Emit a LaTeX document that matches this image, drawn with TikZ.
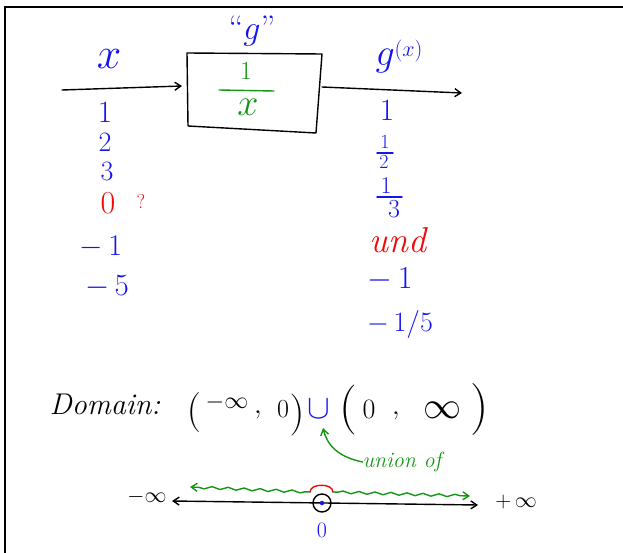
\RequirePackage{fix-cm}
\documentclass[tikz,border=0pt]{standalone}
\usetikzlibrary{arrows.meta,decorations.pathmorphing}
\definecolor{inkblue}{RGB}{20,20,240}
\definecolor{inkred}{RGB}{240,10,10}
\definecolor{inkgreen}{RGB}{20,150,20}
\newcommand\fsz[1]{\fontsize{#1}{#1}\selectfont}
\begin{document}
\begin{tikzpicture}[x=1pt,y=-1pt,
  every node/.style={inner sep=0pt,outer sep=0pt,anchor=center},
  pen/.style={line width=1.4pt,line cap=round,line join=round},
  arr/.style={pen,-{Straight Barb[length=6pt,width=8pt]}},
  arrboth/.style={pen,{Straight Barb[length=6pt,width=8pt]}-{Straight Barb[length=6pt,width=8pt]}},
  bl/.style={text=inkblue},
  rd/.style={text=inkred},
  gr/.style={text=inkgreen},
  wavy/.style={decorate,decoration={snake,amplitude=1.3pt,segment length=16pt,pre length=5pt,post length=5pt}}
]
\useasboundingbox (0,0) rectangle (623,553);
% frame
\coordinate (fr1) at (5,553);
\coordinate (fr2) at (5,7);
\coordinate (fr3) at (623,7);
\draw[line width=2.6pt] (fr1) -- (fr2) -- (fr3);

% function box
\coordinate (b1) at (187,53);
\coordinate (b2) at (322,54);
\coordinate (b3) at (316,133);
\coordinate (b4) at (188,126);
\draw[pen] (b1) -- (b2) -- (b3) -- (b4) -- cycle;
\node[gr] (num) at (246,71) {\fsz{26}$1$};
\node[gr] (den) at (248,107) {\fsz{38}$x$};
\coordinate (fb1) at (219,90);
\coordinate (fb2) at (274,91);
\draw[pen,inkgreen] (fb1) -- (fb2);
\node[bl] (gname) at (252,31) {\fsz{34}``$g$''};

% arrows
\coordinate (xin) at (62,90);
\coordinate (bin) at (182,86);
\draw[arr] (xin) -- (bin);
\coordinate (bout) at (322,87);
\coordinate (gout) at (462,93);
\draw[arr] (bout) -- (gout);
\node[bl] (xlab) at (109,59) {\fsz{44}$x$};
\node[bl] (gxlab) at (399,56) {\fsz{38}$g$\raisebox{9pt}{\fsz{22}$(x)$}};

% input column
\node[bl] (i1) at (105,113) {\fsz{31}$1$};
\node[bl] (i2) at (105,142) {\fsz{28}$2$};
\node[bl] (i3) at (107,171) {\fsz{28}$3$};
\node[rd] (i0) at (108,203) {\fsz{32}$0$};
\node[rd] (iq) at (141,201) {\fsz{20}?};
\node[bl] (im1) at (101,247) {\fsz{30}$-\,1$};
\node[bl] (im5) at (107,287) {\fsz{31}$-\,5$};

% output column
\node[bl] (o1) at (387,111) {\fsz{31}$1$};
\node[bl] (o2n) at (385,142) {\fsz{20}$1$};
\coordinate (o2a) at (377,153);
\coordinate (o2b) at (393,153);
\draw[pen,inkblue] (o2a) -- (o2b);
\node[bl] (o2d) at (384,162) {\fsz{20}$2$};
\node[bl] (o3n) at (386,186) {\fsz{24}$1$};
\coordinate (o3a) at (377,197);
\coordinate (o3b) at (402,197);
\draw[pen,inkblue] (o3a) -- (o3b);
\node[bl] (o3d) at (394,209) {\fsz{26}$3$};
\node[rd] (ou) at (398,240) {\fsz{36}\itshape und};
\node[bl] (om1) at (390,280) {\fsz{32}$-\,1$};
\node[bl] (om5) at (400,324) {\fsz{28}$-\,1/5$};

% domain
\node (dom) at (105,404) {\fsz{30}\itshape Domain:};
\node (lp1) at (194,412) {\fsz{40}$($};
\node (minf) at (227,402) {\fsz{24}$-\infty$};
\node (cm1) at (258,415) {\fsz{28}$,$};
\node (z1) at (283,409) {\fsz{26}$0$};
\node (rp1) at (297,415) {\fsz{42}$)$};
\node[bl] (cup) at (319,409) {\fsz{34}$\cup$};
\node (lp2) at (348,410) {\fsz{50}$($};
\node (z2) at (369,409) {\fsz{28}$0$};
\node (cm2) at (396,416) {\fsz{28}$,$};
\node (inf) at (442,410) {\fsz{38}$\infty$};
\node (rp2) at (480,409) {\fsz{52}$)$};

% union of
\node[gr] (uo) at (402,462) {\fsz{22}\itshape union of};
\coordinate (cuptip) at (323,428);
\draw[arr,inkgreen] (uo.west) .. controls (338,457) and (327,445) .. (cuptip);

% number line
\coordinate (nl1) at (172,501);
\coordinate (nl2) at (478,505);
\draw[arrboth] (nl1) -- (nl2);
\node[draw,pen,circle,minimum size=18pt] (zc) at (322,503) {};
\node[circle,fill=inkblue,minimum size=4.5pt] (zd) at (322,503) {};
\node[bl] (zl) at (322,530) {\fsz{22}$0$};
\node (ninf) at (147,497) {\fsz{22}$-\infty$};
\node (pinf) at (516,502) {\fsz{22}$+\,\infty$};
\coordinate (gl1) at (310,492);
\coordinate (gl0) at (190,487);
\coordinate (gr1) at (333,492);
\coordinate (gr0) at (470,496);
\draw[arr,inkgreen,wavy] (gl1) -- (gl0);
\draw[arr,inkgreen,wavy] (gr1) -- (gr0);
\draw[pen,inkred] (gl1) .. controls (310,483) and (333,483) .. (gr1);
\end{tikzpicture}
\end{document}
